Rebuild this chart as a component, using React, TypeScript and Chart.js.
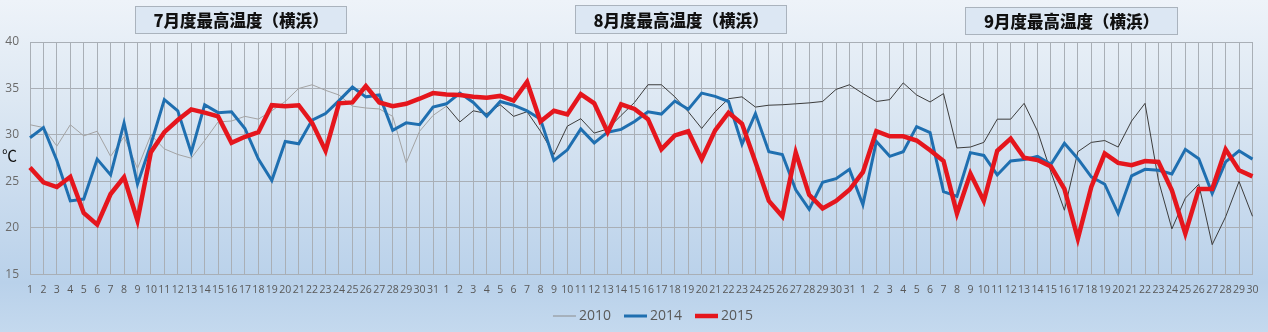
import React, { useEffect, useRef } from 'react';
import { Chart, registerables } from 'chart.js';

Chart.register(...registerables);

// ---- categories (day of month) ----
const julyDays = ['1','2','3','4','5','6','7','8','9','10','11','12','13','14','15','16','17','18','19','20','21','22','23','24','25','26','27','28','29','30','31'];
const augustDays = ['1','2','3','4','5','6','7','8','9','10','11','12','13','14','15','16','17','18','19','20','21','22','23','24','25','26','27','28','29','30','31'];
const septemberDays = ['1','2','3','4','5','6','7','8','9','10','11','12','13','14','15','16','17','18','19','20','21','22','23','24','25','26','27','28','29','30'];

// ---- panel titles ----
const panelTitles = ['7月度最高温度（横浜）', '8月度最高温度（横浜）', '9月度最高温度（横浜）'];

// ---- y axis ticks ----
const yTicks = [15, 20, 25, 30, 35, 40];
const yUnit = '℃';

// ---- series: 2010 ----
const t2010Jul = [31.1, 30.8, 28.8, 31.1, 29.9, 30.4, 27.7, 29.8, 26.4, 30.0, 28.5, 27.9, 27.5, 29.4, 31.4, 31.5, 32.0, 31.7, 32.6, 33.6, 35.0, 35.4, 34.8, 34.3, 33.1, 32.9, 32.8, 32.0, 27.0, 30.4, 32.1];
const t2010Aug = [33.1, 31.4, 32.6, 32.3, 33.25, 32.0, 32.5, 30.4, 27.9, 30.95, 31.75, 30.2, 30.65, 32.1, 33.5, 35.4, 35.4, 34.1, 32.5, 30.7, 32.5, 33.9, 34.1, 33.0, 33.2, 33.25, 33.35, 33.45, 33.6, 34.9, 35.4];
const t2010Sep = [34.45, 33.6, 33.8, 35.6, 34.3, 33.55, 34.45, 28.6, 28.7, 29.2, 31.7, 31.7, 33.4, 30.4, 26.0, 21.9, 28.2, 29.2, 29.4, 28.7, 31.5, 33.4, 25.1, 19.9, 23.2, 24.7, 18.2, 21.2, 25.0, 21.25];

// ---- series: 2014 ----
const t2014Jul = [29.7, 30.8, 27.25, 22.9, 23.1, 27.4, 25.7, 31.3, 24.7, 29.0, 33.8, 32.6, 28.1, 33.25, 32.4, 32.5, 30.7, 27.4, 25.1, 29.3, 29.05, 31.6, 32.3, 33.7, 35.15, 34.1, 34.3, 30.5, 31.3, 31.1, 33.0];
const t2014Aug = [33.35, 34.5, 33.5, 32.0, 33.6, 33.2, 32.6, 31.7, 27.25, 28.4, 30.65, 29.15, 30.3, 30.6, 31.45, 32.5, 32.25, 33.65, 32.75, 34.5, 34.15, 33.6, 29.0, 32.3, 28.2, 27.9, 24.1, 22.0, 24.9, 25.3, 26.3];
const t2014Sep = [22.5, 29.3, 27.7, 28.2, 30.9, 30.25, 23.9, 23.4, 28.1, 27.8, 25.7, 27.2, 27.35, 27.7, 26.85, 29.1, 27.45, 25.5, 24.7, 21.55, 25.6, 26.3, 26.2, 25.8, 28.45, 27.45, 23.7, 27.1, 28.3, 27.4];

// ---- series: 2015 ----
const t2015Jul = [26.5, 24.9, 24.4, 25.5, 21.6, 20.35, 23.65, 25.45, 20.8, 28.15, 30.3, 31.6, 32.75, 32.4, 32.0, 29.15, 29.8, 30.3, 33.2, 33.1, 33.2, 31.3, 28.3, 33.4, 33.5, 35.25, 33.5, 33.1, 33.35, 33.9, 34.5];
const t2015Aug = [34.35, 34.3, 34.1, 34.0, 34.2, 33.7, 35.7, 31.45, 32.6, 32.2, 34.4, 33.4, 30.3, 33.3, 32.8, 31.7, 28.45, 29.95, 30.4, 27.4, 30.5, 32.4, 31.2, 27.1, 22.9, 21.25, 28.1, 23.55, 22.1, 22.9, 24.1];
const t2015Sep = [26.0, 30.4, 29.85, 29.85, 29.4, 28.35, 27.2, 21.55, 25.85, 22.9, 28.3, 29.6, 27.55, 27.3, 26.6, 24.2, 18.85, 24.4, 28.0, 27.0, 26.75, 27.2, 27.1, 24.05, 19.4, 24.2, 24.2, 28.45, 26.2, 25.55];

const seriesLabels = ['2010', '2014', '2015'];

const W = 1268;
const H = 332;
const GRID = '#a9afb6';

const backgroundPlugin = {
  id: 'bgGradient',
  beforeDraw(chart: any) {
    const { ctx } = chart;
    const g = ctx.createLinearGradient(0, 0, 0, H);
    g.addColorStop(0, '#eef3f9');
    g.addColorStop(0.3, '#dde8f3');
    g.addColorStop(0.6, '#c9dbee');
    g.addColorStop(0.85, '#b9d1ea');
    g.addColorStop(1, '#c4d9ee');
    ctx.save();
    ctx.fillStyle = g;
    ctx.fillRect(0, 0, chart.width, chart.height);
    ctx.restore();
  },
};

const decorPlugin = {
  id: 'decor',
  afterDraw(chart: any) {
    const { ctx } = chart;
    ctx.save();
    // panel titles
    const boxes = [
      { l: 135, r: 347, t: 6, b: 34 },
      { l: 575, r: 787, t: 5, b: 34 },
      { l: 965, r: 1178, t: 7, b: 35 },
    ];
    boxes.forEach((bx, i) => {
      ctx.fillStyle = '#dce7f3';
      ctx.fillRect(bx.l, bx.t, bx.r - bx.l, bx.b - bx.t);
      ctx.strokeStyle = '#aab3bd';
      ctx.lineWidth = 1;
      ctx.strokeRect(bx.l + 0.5, bx.t + 0.5, bx.r - bx.l - 1, bx.b - bx.t - 1);
      ctx.fillStyle = '#111111';
      ctx.font = '900 16.5px "Noto Sans CJK JP"';
      ctx.textAlign = 'center';
      ctx.textBaseline = 'middle';
      ctx.fillText(panelTitles[i], (bx.l + bx.r) / 2, (bx.t + bx.b) / 2 + 1);
    });

    // unit label
    ctx.fillStyle = '#111111';
    ctx.font = '15px "Noto Sans CJK JP"';
    ctx.textAlign = 'left';
    ctx.textBaseline = 'middle';
    ctx.fillText(yUnit, 2, 155);

    // legend
    const ds = chart.data.datasets;
    ctx.font = '14px "Open Sans"';
    const lineLen = 23;
    const gap = 3;
    const itemGap = 13;
    const widths = ds.map((d: any) => lineLen + gap + ctx.measureText(d.label).width);
    const total = widths.reduce((a: number, b: number) => a + b, 0) + itemGap * (ds.length - 1);
    let x = 653 - total / 2;
    const y = 316;
    ds.forEach((d: any, i: number) => {
      ctx.strokeStyle = d.legendColor || d.borderColor;
      ctx.lineWidth = d.borderWidth;
      ctx.lineCap = 'butt';
      ctx.beginPath();
      ctx.moveTo(x, y);
      ctx.lineTo(x + lineLen, y);
      ctx.stroke();
      ctx.fillStyle = '#595959';
      ctx.textAlign = 'left';
      ctx.textBaseline = 'middle';
      ctx.fillText(d.label, x + lineLen + gap, y);
      x += widths[i] + itemGap;
    });
    ctx.restore();
  },
};

export default function App() {
  const ref = useRef<HTMLCanvasElement | null>(null);

  useEffect(() => {
    if (!ref.current) return;
    const labels = [...julyDays, ...augustDays, ...septemberDays];
    const julyCount = julyDays.length;
    const chart = new Chart(ref.current, {
      type: 'line',
      data: {
        labels,
        datasets: [
          {
            label: seriesLabels[0],
            data: [...t2010Jul, ...t2010Aug, ...t2010Sep],
            borderColor: '#9a9a9a',
            legendColor: '#8c8c8c',
            borderWidth: 1,
            pointRadius: 0,
            tension: 0,
            segment: {
              borderColor: (c: any) => (c.p0DataIndex >= julyCount ? '#3c3c3c' : '#a3a3a3'),
            },
            order: 3,
          } as any,
          {
            label: seriesLabels[1],
            data: [...t2014Jul, ...t2014Aug, ...t2014Sep],
            borderColor: '#1f6fb0',
            borderWidth: 3,
            pointRadius: 0,
            tension: 0,
            order: 2,
          },
          {
            label: seriesLabels[2],
            data: [...t2015Jul, ...t2015Aug, ...t2015Sep],
            borderColor: '#e5161d',
            borderWidth: 4.5,
            pointRadius: 0,
            tension: 0,
            order: 1,
          },
        ],
      },
      options: {
        responsive: false,
        animation: false,
        events: [],
        layout: { padding: { top: 42, right: 15, bottom: 26, left: 0 } },
        plugins: {
          legend: { display: false },
          tooltip: { enabled: false },
          title: { display: false },
        },
        scales: {
          x: {
            type: 'category',
            offset: false,
            grid: { color: GRID, lineWidth: 1, drawTicks: false },
            border: { color: GRID },
            ticks: {
              autoSkip: false,
              maxRotation: 0,
              minRotation: 0,
              padding: 9.5,
              color: '#595959',
              font: { family: '"Open Sans"', size: 10.5 },
            },
          },
          y: {
            min: yTicks[0],
            max: yTicks[yTicks.length - 1],
            afterBuildTicks: (s: any) => {
              s.ticks = yTicks.map((v) => ({ value: v }));
            },
            afterFit: (s: any) => {
              s.width = 30;
            },
            grid: { color: GRID, lineWidth: 1, drawTicks: false },
            border: { color: GRID },
            ticks: {
              padding: 11,
              color: '#6a6a6a',
              font: { family: '"Open Sans"', size: 12 },
            },
          },
        },
      },
      plugins: [backgroundPlugin, decorPlugin],
    });
    return () => chart.destroy();
  }, []);

  return (
    <div style={{ position: 'fixed', left: 0, top: 0, width: W, height: H }}>
      <canvas ref={ref} width={W} height={H} style={{ width: W, height: H, display: 'block' }} />
    </div>
  );
}
